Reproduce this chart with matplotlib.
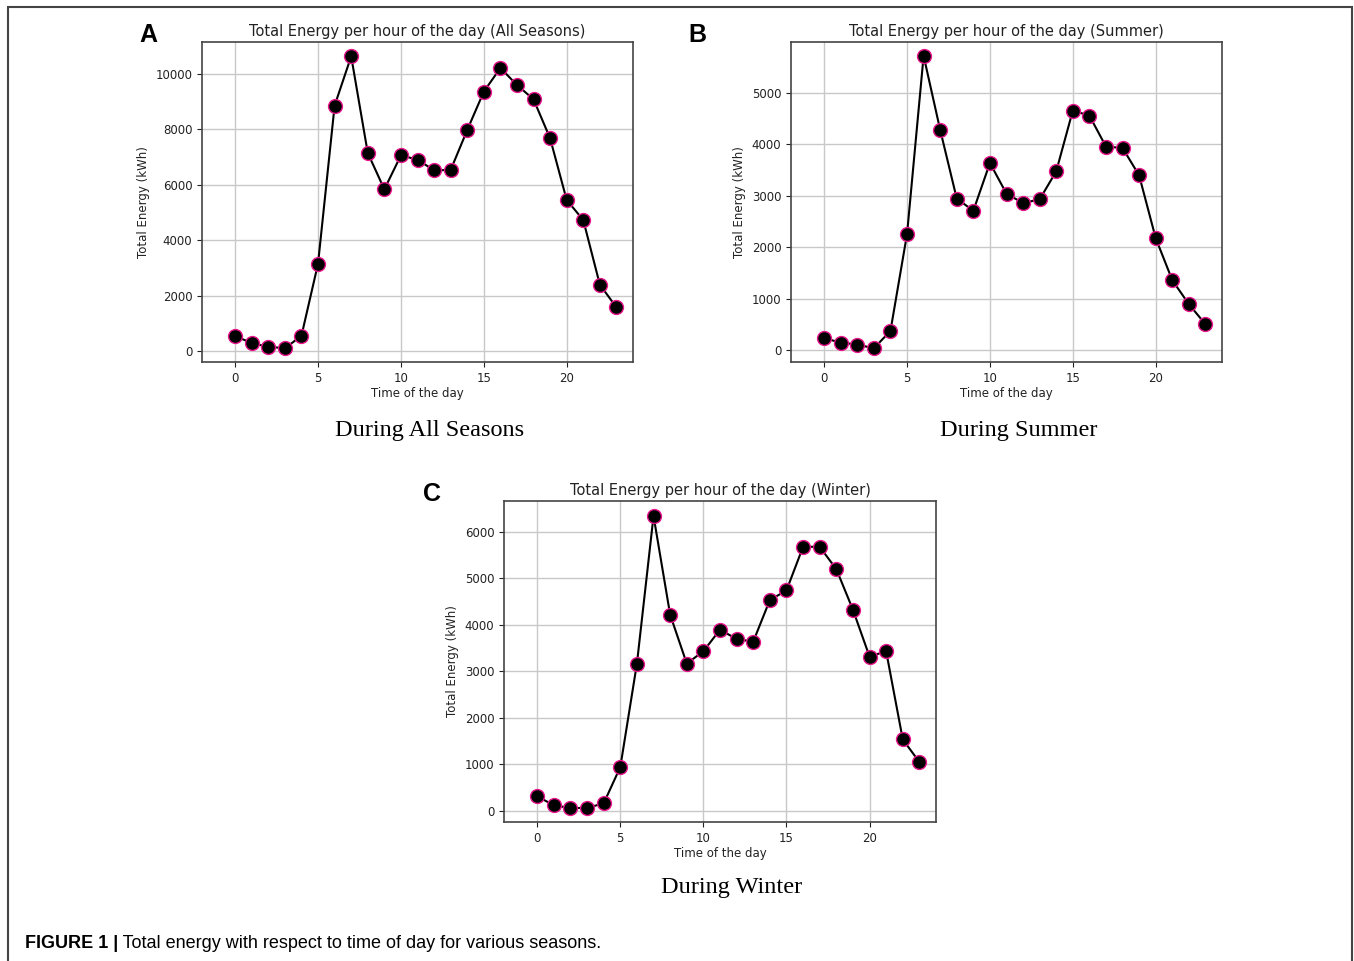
import numpy as np
import matplotlib.pyplot as plt
from matplotlib.patches import Rectangle

# Hour of the day
hours = list(range(24))

# Total energy (kWh) per hour
all_seasons = [550, 277, 156, 96, 550, 3153, 8857, 10638, 7148, 5836, 7064, 6907,
               6522, 6534, 7978, 9362, 10217, 9603, 9085, 7677, 5451, 4729, 2395, 1576]
summer = [227, 143, 104, 32, 370, 2253, 5721, 4279, 2942, 2708, 3636, 3039,
          2857, 2929, 3474, 4656, 4558, 3955, 3929, 3396, 2175, 1357, 890, 500]
winter = [315, 122, 64, 64, 165, 944, 3169, 6345, 4220, 3169, 3434, 3898,
          3698, 3641, 4535, 4742, 5680, 5680, 5200, 4328, 3319, 3434, 1538, 1052]

panel_titles = ["Total Energy per hour of the day (All Seasons)",
                "Total Energy per hour of the day (Summer)",
                "Total Energy per hour of the day (Winter)"]
panel_letters = ["A", "B", "C"]
sub_captions = ["During All Seasons", "During Summer", "During Winter"]
caption_bold = "FIGURE 1 |"
caption_text = " Total energy with respect to time of day for various seasons."

W, H = 1354, 961
fig = plt.figure(figsize=(W / 100, H / 100), dpi=100)


def px_axes(left, top, right, bottom):
    """Create axes from pixel box (origin top-left)"""
    return fig.add_axes([left / W, 1 - bottom / H, (right - left) / W, (bottom - top) / H])


boxes = [(202, 42, 633, 362), (791, 42, 1222, 362), (504, 501, 936, 822)]
series = [all_seasons, summer, winter]
ylims = [(-397, 11155), (-235, 5990), (-237, 6665)]
letter_pos = [(148, 35), (697, 35), (432, 494)]
sub_pos = [(430, 430), (1019, 430), (732, 888)]

for box, vals, title, yl in zip(boxes, series, panel_titles, ylims):
    ax = px_axes(*box)
    ax.plot(hours, vals, color='black', lw=1.5, marker='o', markersize=10,
            markerfacecolor='black', markeredgecolor='#e8158c', markeredgewidth=1.0)
    ax.grid(True, color='#c8c8c8', lw=1)
    ax.set_axisbelow(True)
    ax.set_xticks([0, 5, 10, 15, 20])
    ax.set_xlim(-2, 24)
    ax.set_ylim(*yl)
    ax.set_title(title, fontsize=10.5, pad=4, color='#222222')
    ax.set_xlabel("Time of the day", fontsize=8.5, labelpad=2, color='#222222')
    ax.set_ylabel("Total Energy (kWh)", fontsize=8.5, labelpad=4, color='#222222')
    ax.tick_params(labelsize=8.5, colors='#222222')
    for s in ax.spines.values():
        s.set_color('#444444')
        s.set_linewidth(1.2)

for (x, y), letter in zip(letter_pos, panel_letters):
    fig.text(x / W, 1 - y / H, letter, fontsize=18, fontweight='bold',
             family='Liberation Sans', ha='center', va='center')

for (x, y), sub in zip(sub_pos, sub_captions):
    fig.text(x / W, 1 - y / H, sub, fontsize=17.5, family='Liberation Serif',
             ha='center', va='center')

cap = fig.text(25 / W, 1 - 943 / H, caption_bold, fontsize=13, fontweight='bold',
               family='Liberation Sans', ha='left', va='center')
fig.canvas.draw()
bb = cap.get_window_extent()
fig.text(bb.x1 / W, 1 - 943 / H, caption_text, fontsize=13,
         family='Liberation Sans', ha='left', va='center')

# outer frame
fig.patches.append(Rectangle((8 / W, -0.05), (1352 - 8) / W, 1 - 7 / H + 0.05,
                             transform=fig.transFigure, fill=False,
                             edgecolor='#444444', lw=1.5))

fig.savefig("out.png", dpi=100)
